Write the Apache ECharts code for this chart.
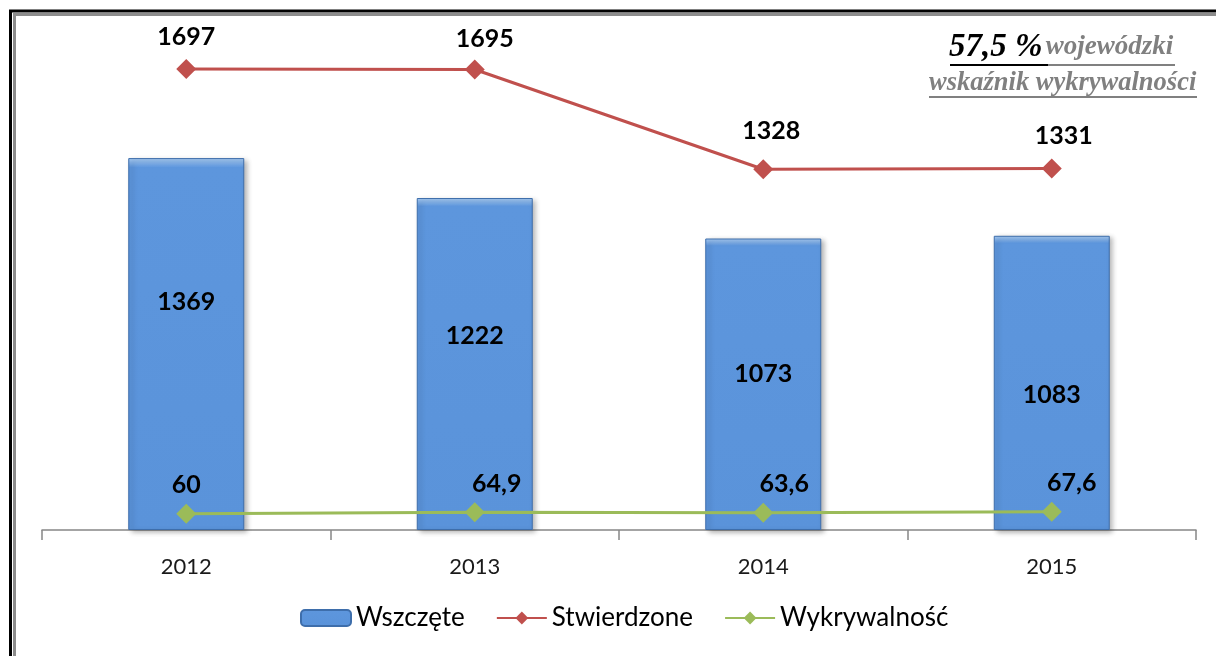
<!DOCTYPE html>
<html>
<head>
<meta charset="utf-8">
<script src="https://cdn.jsdelivr.net/npm/echarts@6/dist/echarts.min.js"></script>
<style>
  html, body { margin: 0; padding: 0; background: #fff; }
  #chart { width: 1216px; height: 656px; }
</style>
</head>
<body>
<div id="chart"></div>
<script>
// data
const years = ['2012', '2013', '2014', '2015'];
const wszczete = [1369, 1222, 1073, 1083];
const stwierdzone = [1697, 1695, 1328, 1331];
const wykrywalnosc = [60, 64.9, 63.6, 67.6];

// label nudges (px), to sit the labels where the original has them
const barLabelDy = [-42, -28, -10, 12];
const redLabelDx = [0, 10, 8, 12];
const redLabelDy = [0, 2, -6, 0];
const greenLabelDx = [0, 22, 21, 20];

const FONT = 'Lato';
const SERIF = 'Liberation Serif';

const chart = echarts.init(document.getElementById('chart'));

const option = {
  animation: false,
  backgroundColor: '#fff',
  textStyle: { fontFamily: FONT },
  grid: { left: 42, right: 20, top: 41, bottom: 126 },
  legend: {
    bottom: 20,
    left: 295,
    itemWidth: 50,
    itemHeight: 16,
    itemGap: 31,
    textStyle: { fontSize: 26, color: '#000', fontFamily: FONT },
    data: ['Wszczęte', 'Stwierdzone', 'Wykrywalność']
  },
  xAxis: {
    type: 'category',
    data: years,
    boundaryGap: true,
    axisLine: { lineStyle: { color: '#868686', width: 1.5 } },
    axisTick: { show: true, length: 10, lineStyle: { color: '#868686', width: 1.5 } },
    axisLabel: { fontSize: 22, color: '#1a1a1a', margin: 26, fontFamily: FONT }
  },
  yAxis: {
    type: 'value',
    min: 0,
    max: 1800,
    show: false,
    splitLine: { show: false }
  },
  graphic: [
    // frame
    { type: 'rect', silent: true, shape: { x: 10.5, y: 11, width: 1400, height: 1000 },
      style: { fill: null, stroke: '#000', lineWidth: 3 } },
    { type: 'rect', silent: true, shape: { x: 14.5, y: 14.5, width: 1400, height: 1000 },
      style: { fill: null, stroke: '#8c8c8c', lineWidth: 3 } },
    // note in the corner
    { type: 'text', left: 949, top: 31, silent: true,
      style: {
        text: '{a|57,5 %} {b|wojewódzki}',
        rich: {
          a: { fontFamily: SERIF, fontStyle: 'italic', fontWeight: 'bold', fontSize: 33, fill: '#000' },
          b: { fontFamily: SERIF, fontStyle: 'italic', fontWeight: 'bold', fontSize: 27, fill: '#808080' }
        }
      } },
    { type: 'line', silent: true, shape: { x1: 950, y1: 65, x2: 1048, y2: 65 }, style: { stroke: '#000', lineWidth: 2 } },
    { type: 'line', silent: true, shape: { x1: 1048, y1: 65, x2: 1175, y2: 65 }, style: { stroke: '#808080', lineWidth: 2 } },
    { type: 'text', left: 929, top: 70, silent: true,
      style: {
        text: 'wskaźnik wykrywalności',
        fontFamily: SERIF, fontStyle: 'italic', fontWeight: 'bold', fontSize: 26.5, fill: '#808080'
      } },
    { type: 'line', silent: true, shape: { x1: 929, y1: 97, x2: 1197, y2: 97 }, style: { stroke: '#808080', lineWidth: 2 } }
  ],
  series: [
    {
      name: 'Wszczęte',
      type: 'bar',
      barWidth: 116,
      data: wszczete.map((v, i) => ({ value: v, label: { offset: [0, barLabelDy[i]] } })),
      itemStyle: {
        color: new echarts.graphic.LinearGradient(0, 0, 0, 1, [
          { offset: 0, color: '#a9cdf5' },
          { offset: 0.025, color: '#5d96dd' },
          { offset: 1, color: '#5a93da' }
        ]),
        borderColor: '#3e6eab',
        borderWidth: 1,
        shadowColor: 'rgba(0,0,0,0.3)',
        shadowBlur: 5,
        shadowOffsetX: 3,
        shadowOffsetY: 2
      },
      label: {
        show: true,
        position: 'inside',
        fontSize: 25,
        fontWeight: 'bold',
        color: '#000',
        fontFamily: FONT
      }
    },
    {
      name: 'Stwierdzone',
      type: 'line',
      data: stwierdzone.map((v, i) => ({ value: v, label: { offset: [redLabelDx[i], redLabelDy[i]] } })),
      symbol: 'diamond',
      symbolSize: 20,
      lineStyle: { color: '#c0504d', width: 3 },
      itemStyle: { color: '#c0504d' },
      label: {
        show: true,
        position: 'top',
        distance: 10,
        fontSize: 25,
        fontWeight: 'bold',
        color: '#000',
        fontFamily: FONT
      }
    },
    {
      name: 'Wykrywalność',
      type: 'line',
      data: wykrywalnosc.map((v, i) => ({ value: v, label: { offset: [greenLabelDx[i], 0] } })),
      symbol: 'diamond',
      symbolSize: 20,
      lineStyle: { color: '#9bbb59', width: 3 },
      itemStyle: { color: '#9bbb59' },
      label: {
        show: true,
        position: 'top',
        distance: 6,
        fontSize: 25,
        fontWeight: 'bold',
        color: '#000',
        fontFamily: FONT,
        formatter: p => String(p.value).replace('.', ',')
      }
    }
  ]
};

chart.setOption(option);
</script>
</body>
</html>
